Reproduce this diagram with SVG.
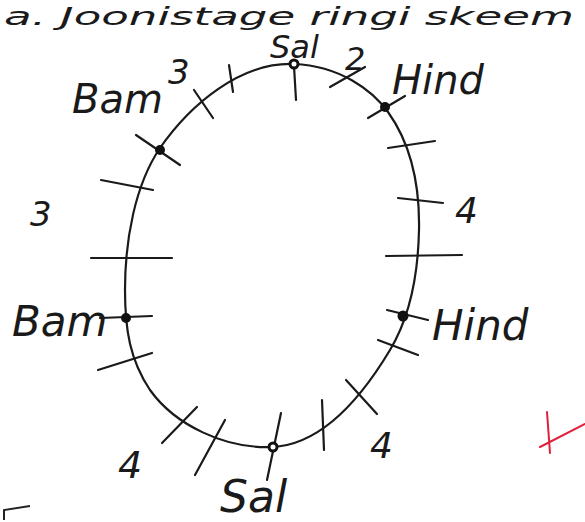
<svg xmlns="http://www.w3.org/2000/svg" width="585" height="522" viewBox="0 0 585 522">
<style>
.t{font-family:"DejaVu Sans","Liberation Sans",sans-serif;font-style:italic;fill:#1a1a1a}
.ln{stroke:#1a1a1a;stroke-width:2.2;fill:none;stroke-linecap:round}
.dot{fill:#111}
</style>
<rect width="585" height="522" fill="#fff"/>
<text class="t" x="4" y="25" font-size="24" textLength="570" lengthAdjust="spacingAndGlyphs">a. Joonistage ringi skeem</text>
<g id="ring">
<path class="ln" stroke-width="2.6" d="M294 64 C340 66,372 90,388 112 C408 140,420 180,419 230 C418 280,408 320,390 350 C360 400,320 445,272 447 C225 449,175 425,150 390 C130 360,125 330,125 290 C125 240,135 185,160 148 C190 105,240 62,294 64 Z"/>
</g>
<g id="ticks">
<path class="ln" d="M229 65 L233 92"/>
<path class="ln" d="M194 90 L213 118"/>
<path class="ln" d="M294 66 L296 100"/>
<path class="ln" d="M330 87 L365 67"/>
<path class="ln" d="M368 118 L405 96"/>
<path class="ln" d="M388 148 L435 141"/>
<path class="ln" d="M398 198 L443 203"/>
<path class="ln" d="M386 256 L462 255"/>
<path class="ln" d="M387 310 L428 320"/>
<path class="ln" d="M378 340 L418 355"/>
<path class="ln" d="M346 380 L377 414"/>
<path class="ln" d="M322 400 L324 450"/>
<path class="ln" d="M281 413 L267 480"/>
<path class="ln" d="M195 475 L225 420"/>
<path class="ln" d="M162 443 L197 407"/>
<path class="ln" d="M98 370 L152 353"/>
<path class="ln" d="M100 318 L152 316"/>
<path class="ln" d="M91 258 L172 258"/>
<path class="ln" d="M101 180 L153 190"/>
<path class="ln" d="M136 135 L180 165"/>
</g>
<g id="dots">
<circle cx="294" cy="64" r="4" fill="#fff" stroke="#111" stroke-width="3"/>
<circle class="dot" cx="385" cy="107" r="5"/>
<circle class="dot" cx="403" cy="316" r="5.5"/>
<circle cx="273" cy="447" r="4" fill="#fff" stroke="#111" stroke-width="3"/>
<circle cx="126" cy="318" r="4" fill="#111" stroke="#111" stroke-width="2"/>
<circle class="dot" cx="160" cy="150" r="5"/>
</g>
<g id="labels">
<text class="t" x="270" y="58" font-size="32">Sal</text>
<text class="t" x="345" y="70" font-size="32">2</text>
<text class="t" x="392" y="94" font-size="40">Hind</text>
<text class="t" x="168" y="84" font-size="34">3</text>
<text class="t" x="72" y="113" font-size="40">Bam</text>
<text class="t" x="30" y="226" font-size="34">3</text>
<text class="t" x="455" y="223" font-size="36">4</text>
<text class="t" x="12" y="336" font-size="42">Bam</text>
<text class="t" x="432" y="340" font-size="42">Hind</text>
<text class="t" x="118" y="478" font-size="38">4</text>
<text class="t" x="370" y="458" font-size="36">4</text>
<text class="t" x="220" y="512" font-size="44">Sal</text>
<path d="M4 520 L4 510 L30 506" stroke="#222" stroke-width="2" fill="none"/>
<path d="M540 447 L585 424 M547 412 L550 453" stroke="#e0203a" stroke-width="2" fill="none" stroke-linecap="round"/>
</g>
</svg>
